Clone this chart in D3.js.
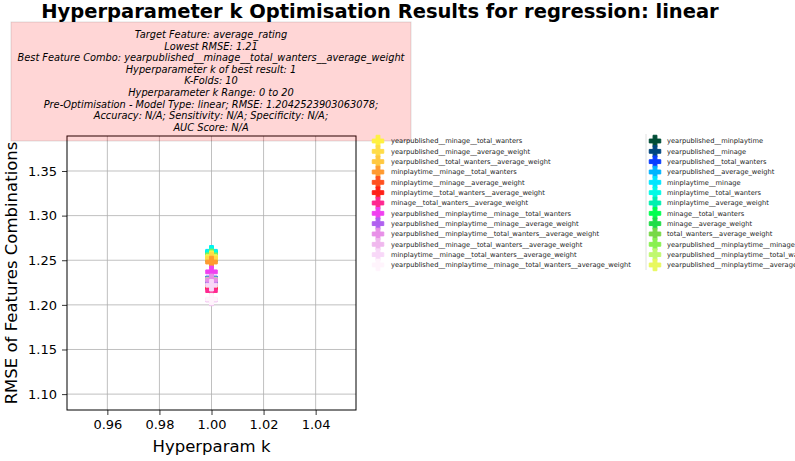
<!DOCTYPE html>
<html><head><meta charset="utf-8">
<script src="https://cdn.jsdelivr.net/npm/d3@7"></script>
<style>body{margin:0;background:#fff}svg{display:block;font-family:"DejaVu Sans",sans-serif}</style>
</head><body><svg id="c" width="795" height="461"></svg>
<script>
const title = "Hyperparameter k Optimisation Results for regression: linear";
const infoLines = [
  "Target Feature: average_rating",
  "Lowest RMSE: 1.21",
  "Best Feature Combo: yearpublished__minage__total_wanters__average_weight",
  "Hyperparameter k of best result: 1",
  "K-Folds: 10",
  "Hyperparameter k Range: 0 to 20",
  "Pre-Optimisation - Model Type: linear; RMSE: 1.2042523903063078;",
  "Accuracy: N/A; Sensitivity: N/A; Specificity: N/A;",
  "AUC Score: N/A"
];
const combos = [
  "yearpublished__minplaytime","yearpublished__minage","yearpublished__total_wanters","yearpublished__average_weight",
  "minplaytime__minage","minplaytime__total_wanters","minplaytime__average_weight","minage__total_wanters",
  "minage__average_weight","total_wanters__average_weight","yearpublished__minplaytime__minage",
  "yearpublished__minplaytime__total_wanters","yearpublished__minplaytime__average_weight",
  "yearpublished__minage__total_wanters","yearpublished__minage__average_weight",
  "yearpublished__total_wanters__average_weight","minplaytime__minage__total_wanters",
  "minplaytime__minage__average_weight","minplaytime__total_wanters__average_weight",
  "minage__total_wanters__average_weight","yearpublished__minplaytime__minage__total_wanters",
  "yearpublished__minplaytime__minage__average_weight","yearpublished__minplaytime__total_wanters__average_weight",
  "yearpublished__minage__total_wanters__average_weight","minplaytime__minage__total_wanters__average_weight",
  "yearpublished__minplaytime__minage__total_wanters__average_weight"
];
const kValues = [1,1,1,1,1,1,1,1,1,1,1,1,1,1,1,1,1,1,1,1,1,1,1,1,1,1];
const rmseValues = [1.258,1.257,1.230,1.255,1.260,1.259,1.223,1.224,1.250,1.222,1.256,1.229,1.254,
  1.253,1.252,1.221,1.248,1.220,1.219,1.216,1.237,1.225,1.228,1.2055,1.222,1.2065];
const colors = ["#004d36","#00467f","#0a3cff","#00b4ff","#00e6ff","#00fae6","#00f0b0","#00ff50",
  "#20dc48","#78d848","#88f050","#c0f870","#e8f860",
  "#fff040","#ffdc48","#ffc840","#ff9a30","#ff5020","#ff2018","#ff2890","#f040f0","#b060f0",
  "#e890e8","#f0b8ee","#f8d8f8","#fff4fc"];
const xTicks = [0.96,0.98,1.00,1.02,1.04];
const yTicks = [1.10,1.15,1.20,1.25,1.30,1.35];

const svg = d3.select("#c");
const L=67,R=356,T=136,B=410;
const x = d3.scaleLinear().domain([0.9445,1.0555]).range([L,R]);
const y = d3.scaleLinear().domain([1.0822,1.3892]).range([B,T]);

function plusPath(s){
  const u=s/6;
  const pts=[[-1,-3],[1,-3],[1,-1],[3,-1],[3,1],[1,1],[1,3],[-1,3],[-1,1],[-3,1],[-3,-1],[-1,-1]];
  return "M"+pts.map(p=>[p[0]*u,p[1]*u].join(",")).join("L")+"Z";
}

// grid
svg.append("g").selectAll("line").data(xTicks).join("line")
  .attr("x1",d=>x(d)).attr("x2",d=>x(d)).attr("y1",T).attr("y2",B)
  .attr("stroke","#b0b0b0").attr("stroke-width",0.8);
svg.append("g").selectAll("line").data(yTicks).join("line")
  .attr("y1",d=>y(d)).attr("y2",d=>y(d)).attr("x1",L).attr("x2",R)
  .attr("stroke","#b0b0b0").attr("stroke-width",0.8);

// axes
const xa = svg.append("g").attr("transform",`translate(0,${B})`)
  .call(d3.axisBottom(x).tickValues(xTicks).tickFormat(d3.format(".2f")).tickSizeOuter(0).tickSize(5).tickPadding(5));
const ya = svg.append("g").attr("transform",`translate(${L},0)`)
  .call(d3.axisLeft(y).tickValues(yTicks).tickFormat(d3.format(".2f")).tickSizeOuter(0).tickSize(5).tickPadding(5));
[xa,ya].forEach(a=>{a.select(".domain").remove();
  a.selectAll("text").attr("font-size",13).attr("font-family","DejaVu Sans").attr("fill","#000");
  a.selectAll("line").attr("stroke","#000").attr("stroke-width",0.8);});
svg.append("rect").attr("x",L).attr("y",T).attr("width",R-L).attr("height",B-T)
  .attr("fill","none").attr("stroke","#000").attr("stroke-width",1);

// points
svg.append("g").selectAll("path").data(rmseValues).join("path")
  .attr("d",plusPath(11.5))
  .attr("transform",(d,i)=>`translate(${x(kValues[i])},${y(d)})`)
  .attr("fill",(d,i)=>colors[i]).attr("stroke",(d,i)=>colors[i]).attr("stroke-width",1);

// labels
svg.append("text").attr("x",(L+R)/2).attr("y",452).attr("text-anchor","middle")
  .attr("font-size",16.5).text("Hyperparam k");
svg.append("text").attr("transform",`translate(17,${(T+B)/2}) rotate(-90)`).attr("text-anchor","middle")
  .attr("font-size",16.5).text("RMSE of Features Combinations");
svg.append("text").attr("x",380).attr("y",18).attr("text-anchor","middle")
  .attr("font-size",19.5).attr("font-weight","bold").text(title);

// info box
svg.append("rect").attr("x",11).attr("y",22).attr("width",400).attr("height",119)
  .attr("fill","rgba(255,0,0,0.16)").attr("stroke","rgba(0,0,0,0.12)").attr("stroke-width",1);
svg.append("g").selectAll("text").data(infoLines).join("text")
  .attr("x",211).attr("y",(d,i)=>38+i*11.6).attr("text-anchor","middle")
  .attr("font-size",9.8).attr("font-style","italic").attr("fill","#000").text(d=>d);

// legend
const legOrder = d3.range(13,26).concat(d3.range(0,13));
const leg = svg.append("g");
svg.append("line").attr("x1",646).attr("x2",646).attr("y1",134).attr("y2",270)
  .attr("stroke","#e0e0e0").attr("stroke-width",1);
legOrder.forEach((idx,j)=>{
  const col = j<13?0:1, row = j%13;
  const mx = col===0?378:655, ty = 141+row*10.33;
  leg.append("path").attr("d",plusPath(11.5)).attr("transform",`translate(${mx},${ty})`)
    .attr("fill",colors[idx]).attr("stroke",colors[idx]).attr("stroke-width",1);
  leg.append("text").attr("x",col===0?391:667).attr("y",ty+2.4).attr("font-size",6.7)
    .attr("fill","#222").text(combos[idx]);
});
</script></body></html>
